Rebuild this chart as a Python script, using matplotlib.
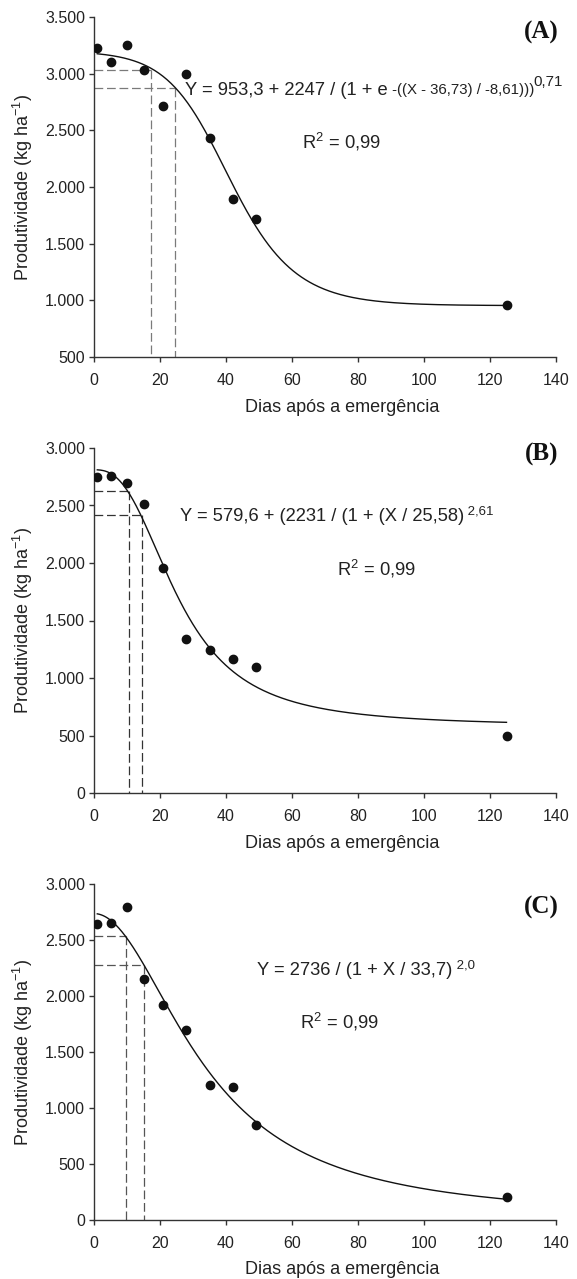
import numpy as np
import matplotlib
matplotlib.use("Agg")
import matplotlib.pyplot as plt
from matplotlib.ticker import FuncFormatter, MultipleLocator

plt.rcParams['font.family'] = ['Liberation Sans', 'DejaVu Sans']
plt.rcParams['mathtext.fontset'] = 'custom'
plt.rcParams['mathtext.rm'] = 'Liberation Sans'
plt.rcParams['mathtext.it'] = 'Liberation Sans:italic'
plt.rcParams['mathtext.bf'] = 'Liberation Sans:bold'

# ---------------- data ----------------
days = [1, 5, 10, 15, 21, 28, 35, 42, 49, 125]
yield_a = [3227, 3103, 3256, 3033, 2713, 3000, 2428, 1892, 1722, 956]
yield_b = [2744, 2756, 2695, 2509, 1960, 1336, 1246, 1165, 1096, 500]
yield_c = [2646, 2652, 2795, 2152, 1916, 1696, 1208, 1190, 851, 205]

# fitted-model coefficients printed on the chart
coef_a = [953.3, 2247, 36.73, -8.61, 0.71]
coef_b = [579.6, 2231, 25.58, 2.61]
coef_c = [2736, 33.7, 2.0]

# critical-period guide lines: (x of vertical, y of horizontal)
guides_a = [(17.2, 3030), (24.4, 2877)]
guides_b = [(10.6, 2628), (14.4, 2416)]
guides_c = [(9.8, 2538), (15.3, 2280)]

panel_labels = ["(A)", "(B)", "(C)"]
eq_main = ["Y = 953,3 + 2247 / (1 + e",
           "Y = 579,6 + (2231 / (1 + (X / 25,58)",
           "Y = 2736 / (1 + X / 33,7)"]
eq_exp1 = ["-((X - 36,73) / -8,61)))", "2,61", "2,0"]
eq_exp2 = ["0,71", None, None]
r2_text = "R$^2$ = 0,99"
xlabel = "Dias após a emergência"
ylabel = "Produtividade (kg ha$^{-1}$)"
xticks = [0, 20, 40, 60, 80, 100, 120, 140]


def model_a(x, c):
    y0, a, x0, b, p = c
    return y0 + a / (1 + np.exp(-((x - x0) / b))) ** p


def model_b(x, c):
    y0, a, x0, p = c
    return y0 + a / (1 + (x / x0) ** p)


def model_c(x, c):
    a, x0, p = c
    return a / (1 + (x / x0) ** p)


fig = plt.figure(figsize=(5.77, 12.79), dpi=100)

W = 577.0
H = 1279.0
left_px, right_px = 94, 556
panels = [
    dict(top=17, bottom=357, ylim=(500, 3500), yv=yield_a, model=model_a, coef=coef_a,
         guides=guides_a, eq_xy=(27.5, 2812), r2_xy=(63, 2400), lab_xy=(135.5, 3360),
         gcolor='#7a7a7a'),
    dict(top=448, bottom=793, ylim=(0, 3000), yv=yield_b, model=model_b, coef=coef_b,
         guides=guides_b, eq_xy=(26, 2365), r2_xy=(73.5, 1950), lab_xy=(135.5, 2940),
         gcolor='#333333'),
    dict(top=884, bottom=1220, ylim=(0, 3000), yv=yield_c, model=model_c, coef=coef_c,
         guides=guides_c, eq_xy=(49.5, 2185), r2_xy=(62.5, 1765), lab_xy=(135.5, 2790),
         gcolor='#555555'),
]

fmt = FuncFormatter(lambda v, p: f"{int(round(v)):,}".replace(",", "."))
xcurve = np.linspace(1, 125, 400)
TXT = '#222222'

for i, pnl in enumerate(panels):
    h_px = pnl['bottom'] - pnl['top']
    ax = fig.add_axes([left_px / W, 1 - pnl['bottom'] / H,
                       (right_px - left_px) / W, h_px / H])
    ax.set_xlim(0, 140)
    ax.set_ylim(*pnl['ylim'])
    ax.set_xticks(xticks)
    ax.yaxis.set_major_locator(MultipleLocator(500))
    ax.yaxis.set_major_formatter(fmt)
    for s in ['top', 'right']:
        ax.spines[s].set_visible(False)
    for s in ['left', 'bottom']:
        ax.spines[s].set_color('#333333')
        ax.spines[s].set_linewidth(1.0)
    ax.tick_params(direction='out', length=3.5, width=1.0, color='#333333',
                   labelsize=11.5, labelcolor=TXT)
    ax.tick_params(axis='x', pad=8)
    ax.tick_params(axis='y', pad=3)

    # guide lines
    ymin = pnl['ylim'][0]
    for gx, gy in pnl['guides']:
        ax.plot([0, gx], [gy, gy], color=pnl['gcolor'], lw=0.9, ls=(0, (7, 3)), zorder=1)
        ax.plot([gx, gx], [gy, ymin], color=pnl['gcolor'], lw=0.9, ls=(0, (7, 3)), zorder=1)

    # fitted curve
    ax.plot(xcurve, pnl['model'](xcurve, pnl['coef']), color='#111111', lw=1.0, zorder=2)
    # observations
    ax.plot(days, pnl['yv'], 'o', color='#111111', ms=6, zorder=3)

    ax.set_xlabel(xlabel, fontsize=13, color=TXT)
    ax.xaxis.set_label_coords((342 - left_px) / (right_px - left_px), -41.5 / h_px)
    ax.set_ylabel(ylabel, fontsize=13, color=TXT, labelpad=7.5)

    # equation text
    t1 = ax.text(pnl['eq_xy'][0], pnl['eq_xy'][1], eq_main[i], fontsize=13.2,
                 color=TXT, ha='left', va='baseline', clip_on=False)
    if i == 0:
        t2 = ax.annotate(" " + eq_exp1[i], xy=(1, 0.12), xycoords=t1, fontsize=10.8,
                         color=TXT, ha='left', va='bottom', annotation_clip=False)
        ax.annotate(eq_exp2[i], xy=(1, 0.55), xycoords=t2, fontsize=10.8,
                    color=TXT, ha='left', va='bottom', annotation_clip=False)
    else:
        ax.annotate(" " + eq_exp1[i], xy=(1, 0.45), xycoords=t1, fontsize=9.5,
                    color=TXT, ha='left', va='bottom', annotation_clip=False)

    ax.text(pnl['r2_xy'][0], pnl['r2_xy'][1], r2_text, fontsize=13.2, color=TXT,
            ha='left', va='center')
    ax.text(pnl['lab_xy'][0], pnl['lab_xy'][1], panel_labels[i], fontsize=18,
            fontweight='bold', family='Liberation Serif', color='#111111',
            ha='center', va='center')

fig.savefig("out.png", dpi=100)
